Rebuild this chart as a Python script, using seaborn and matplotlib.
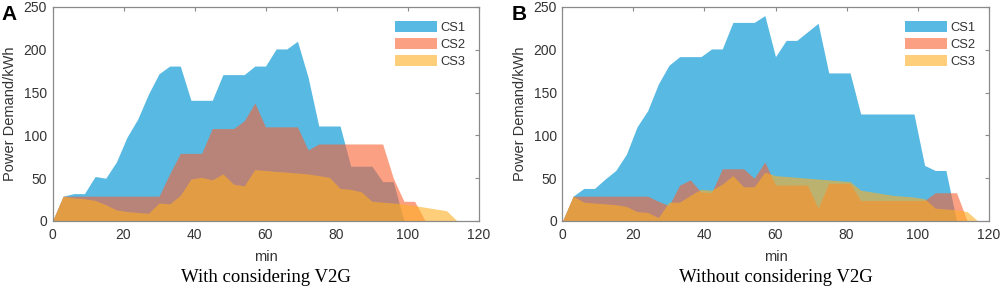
import numpy as np
import pandas as pd
import matplotlib
matplotlib.use("Agg")
import matplotlib.pyplot as plt
import seaborn as sns

# time axis (min), 3-minute steps
minutes = list(range(0, 120, 3))

# panel A: with considering V2G
cs1_v2g = [0, 29, 32, 32, 52, 50, 69, 98, 119, 148, 172, 181, 181, 141, 141, 141, 171, 171, 171, 181,
           181, 201, 201, 210, 168, 111, 111, 111, 64, 64, 64, 46, 46, 0, 0, 0, 0, 0, 0, 0]
cs2_v2g = [0, 29, 29, 29, 29, 29, 29, 29, 29, 29, 29, 55, 79, 79, 79, 108, 108, 108, 117, 138,
           110, 110, 110, 110, 83, 90, 90, 90, 90, 90, 90, 90, 50, 23, 23, 0, 0, 0, 0, 0]
cs3_v2g = [0, 29, 27, 26, 24, 19, 13, 11, 10, 9, 21, 20, 30, 49, 51, 48, 55, 43, 41, 60,
           59, 58, 57, 56, 55, 53, 51, 38, 37, 34, 23, 22, 21, 20, 18, 16, 14, 12, 0, 0]

# panel B: without considering V2G
cs1_no = [0, 29, 38, 38, 49, 59, 78, 110, 129, 160, 182, 192, 192, 192, 201, 201, 232, 232, 232, 240,
          192, 211, 211, 221, 231, 173, 173, 173, 125, 125, 125, 125, 125, 125, 65, 59, 59, 0, 0, 0]
cs2_no = [0, 29, 29, 29, 29, 29, 29, 29, 29, 23, 18, 42, 48, 34, 33, 61, 61, 61, 50, 69,
          42, 42, 42, 42, 15, 44, 44, 44, 24, 24, 24, 24, 24, 24, 24, 33, 33, 33, 0, 0]
cs3_no = [0, 29, 22, 21, 20, 19, 17, 11, 10, 4, 22, 22, 30, 37, 36, 43, 53, 40, 40, 57,
          53, 52, 51, 50, 49, 48, 47, 46, 36, 34, 32, 30, 29, 28, 26, 15, 14, 13, 11, 0]

stations = ["CS1", "CS2", "CS3"]
panels = ["A", "B"]
captions = ["With considering V2G", "Without considering V2G"]

colors = {"CS1": "#58B9E2", "CS2": "#FA6133", "CS3": "#FFAE22"}
alphas = {"CS1": 1.0, "CS2": 0.6, "CS3": 0.6}

df = pd.concat([
    pd.DataFrame({"min": minutes, "CS1": cs1_v2g, "CS2": cs2_v2g, "CS3": cs3_v2g, "panel": "A"}),
    pd.DataFrame({"min": minutes, "CS1": cs1_no, "CS2": cs2_no, "CS3": cs3_no, "panel": "B"}),
])
long_df = df.melt(id_vars=["min", "panel"], var_name="station", value_name="power")

sns.set_theme(style="white")
plt.rcParams["font.family"] = ["Liberation Sans", "DejaVu Sans"]

fig = plt.figure(figsize=(10.03, 2.92), dpi=100)
lefts = [52.5 / 1003, 562.5 / 1003]
text_col = "#333333"
frame_col = "#8a8a8a"

for left, panel, cap in zip(lefts, panels, captions):
    ax = fig.add_axes([left, 1 - 221 / 292, 426 / 1003, 214 / 292])
    sub = long_df[long_df["panel"] == panel]
    sns.lineplot(data=sub, x="min", y="power", hue="station", palette=colors,
                 linewidth=0, legend=False, ax=ax)
    for st in stations:
        d = sub[sub["station"] == st]
        ax.fill_between(d["min"], 0, d["power"], color=colors[st], alpha=alphas[st],
                        linewidth=0, label=st)
    ax.set_xlim(0, 120)
    ax.set_ylim(0, 250)
    ax.set_xticks(range(0, 121, 20))
    ax.set_yticks(range(0, 251, 50))
    ax.tick_params(direction="in", length=3, width=0.8, color=frame_col,
                   labelsize=10, labelcolor=text_col, top=True, right=True,
                   labeltop=False, labelright=False)
    ax.tick_params(axis="x", pad=5)
    ax.tick_params(axis="y", pad=4)
    for sp in ax.spines.values():
        sp.set_color(frame_col)
        sp.set_linewidth(0.9)
    ax.set_xlabel("min", fontsize=10.5, color=text_col)
    ax.set_ylabel("Power Demand/kWh", fontsize=10.5, color=text_col)
    ax.xaxis.set_label_coords(0.5, -0.135)
    ax.yaxis.set_label_coords(-0.083, 0.5)
    ax.legend(loc="upper right", bbox_to_anchor=(0.997, 0.99), frameon=False,
              fontsize=9.3, handlelength=3.25, handleheight=0.95, labelspacing=0.3,
              handletextpad=0.3, labelcolor=text_col)
    fig.text(left + 213 / 1003, 1 - 277 / 292, cap, ha="center", va="center",
             fontsize=13.5, family="Liberation Serif", color="black")
    fig.text(left - 51 / 1003, 1 - 14 / 292, panel, ha="left", va="center",
             fontsize=15, fontweight="bold", color="black")

fig.savefig("out.png", dpi=100)
